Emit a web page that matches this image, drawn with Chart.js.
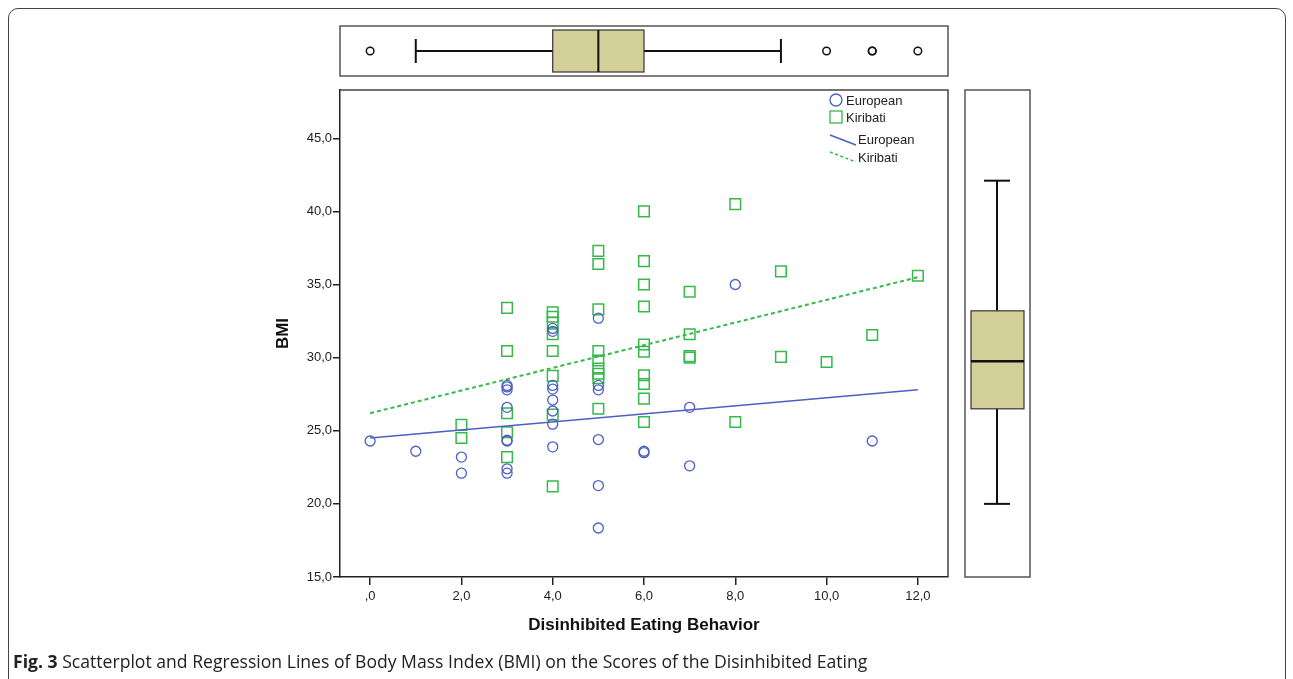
<!DOCTYPE html>
<html>
<head>
<meta charset="utf-8">
<script src="https://cdn.jsdelivr.net/npm/chart.js@4.4.1/dist/chart.umd.min.js"></script>
<style>
  html, body { margin: 0; padding: 0; background: #fff; width: 1293px; height: 679px; overflow: hidden; }
  #frame { position: absolute; left: 8px; top: 8px; width: 1276px; height: 720px; border: 1px solid #444; border-radius: 10px; }
  #plot { position: absolute; left: 0; top: 0; }
  #caption { position: absolute; left: 13px; top: 649px; font-family: "Open Sans"; font-size: 17.6px; color: #222; white-space: nowrap; }
</style>
</head>
<body>
<div id="frame"></div>
<canvas id="plot" width="1293" height="679"></canvas>
<div id="caption"><b>Fig. 3</b> Scatterplot and Regression Lines of Body Mass Index (BMI) on the Scores of the Disinhibited Eating</div>
<script>
// European (circles)
const eurX = [0, 1, 2, 2, 3, 3, 3, 3, 3, 3, 3, 3, 4, 4, 4, 4, 4, 4, 4, 4, 5, 5, 5, 5, 5, 5, 6, 6, 7, 7, 8, 11];
const eurY = [24.3, 23.6, 23.2, 22.1, 28.1, 28.0, 27.8, 26.6, 24.35, 24.3, 22.4, 22.1,
  32.0, 31.8, 28.1, 27.85, 27.1, 26.35, 25.45, 23.9, 32.7, 28.1, 27.8, 24.4, 21.25, 18.35,
  23.6, 23.5, 26.6, 22.6, 35.0, 24.3];

// Kiribati (squares)
const kirX = [2, 2, 3, 3, 3, 3, 3, 4, 4, 4, 4, 4, 4, 4, 4, 5, 5, 5, 5, 5, 5, 5, 5, 5,
  6, 6, 6, 6, 6, 6, 6, 6, 6, 6, 7, 7, 7, 7, 8, 8, 9, 9, 10, 11, 12];
const kirY = [25.4, 24.5, 33.4, 30.45, 26.2, 24.9, 23.2,
  33.1, 32.8, 32.4, 31.6, 30.45, 28.75, 26.1, 21.2,
  37.3, 36.4, 33.3, 30.45, 29.8, 29.25, 28.9, 28.6, 26.5,
  40.0, 36.6, 35.0, 33.5, 30.9, 30.4, 28.8, 28.2, 27.2, 25.6,
  34.5, 31.6, 30.1, 30.0, 40.5, 25.6, 35.9, 30.05, 29.7, 31.55, 35.6];

// regression lines, read at the ends of the x range
const fitX = [0, 12];
const eurFit = [24.5, 27.8];
const kirFit = [26.2, 35.5];

// axis ticks
const xTicks = [0, 2, 4, 6, 8, 10, 12];
const xTickLabels = [',0', '2,0', '4,0', '6,0', '8,0', '10,0', '12,0'];
const yTicks = [15, 20, 25, 30, 35, 40, 45];

// boxplots: [min whisker, q1, median, q3, max whisker]
const xBoxStats = [1, 4, 5, 6, 9];
const xOutliers = [0, 10, 11, 11, 12];
const yBoxStats = [20.0, 26.5, 29.75, 33.2, 42.1];

const BLUE = '#4b5fc4';
const GREEN = '#35b94b';
const BOX_FILL = '#d3cf98';

const pts = (xs, ys) => xs.map((v, i) => ({ x: v, y: ys[i] }));

// frame, legend and the two marginal boxplots
const extras = {
  id: 'extras',
  afterDraw(chart) {
    const { ctx, chartArea: a, scales: { x, y } } = chart;
    ctx.save();

    // top/right border of the plot
    ctx.strokeStyle = '#444';
    ctx.lineWidth = 1.5;
    ctx.beginPath();
    ctx.moveTo(a.left, a.top); ctx.lineTo(a.right, a.top); ctx.lineTo(a.right, a.bottom);
    ctx.stroke();

    const line = (x1, y1, x2, y2) => { ctx.beginPath(); ctx.moveTo(x1, y1); ctx.lineTo(x2, y2); ctx.stroke(); };

    // top boxplot (x variable)
    ctx.strokeStyle = '#555';
    ctx.lineWidth = 1.5;
    ctx.strokeRect(a.left, 26, a.right - a.left, 50);
    const cy = 51;
    const [mn, q1, md, q3, mx] = xBoxStats.map(v => x.getPixelForValue(v));
    ctx.strokeStyle = '#111';
    ctx.lineWidth = 2;
    line(mn, cy, q1, cy); line(q3, cy, mx, cy);
    line(mn, cy - 12, mn, cy + 12); line(mx, cy - 12, mx, cy + 12);
    ctx.fillStyle = BOX_FILL;
    ctx.fillRect(q1, 30, q3 - q1, 42);
    ctx.lineWidth = 1.2;
    ctx.strokeStyle = '#333';
    ctx.strokeRect(q1, 30, q3 - q1, 42);
    ctx.lineWidth = 2;
    ctx.strokeStyle = '#111';
    line(md, 30, md, 72);
    ctx.lineWidth = 1.5;
    xOutliers.forEach(v => {
      ctx.beginPath(); ctx.arc(x.getPixelForValue(v), cy, 3.8, 0, Math.PI * 2); ctx.stroke();
    });

    // right boxplot (y variable)
    ctx.strokeStyle = '#555';
    ctx.lineWidth = 1.5;
    ctx.strokeRect(965, a.top, 65, a.bottom - a.top);
    const cx = 997;
    const [bmn, bq1, bmd, bq3, bmx] = yBoxStats.map(v => y.getPixelForValue(v));
    ctx.strokeStyle = '#111';
    ctx.lineWidth = 2;
    line(cx, bmn, cx, bq1); line(cx, bq3, cx, bmx);
    line(cx - 13, bmn, cx + 13, bmn); line(cx - 13, bmx, cx + 13, bmx);
    ctx.fillStyle = BOX_FILL;
    ctx.fillRect(971, bq3, 53, bq1 - bq3);
    ctx.lineWidth = 1.2;
    ctx.strokeStyle = '#333';
    ctx.strokeRect(971, bq3, 53, bq1 - bq3);
    ctx.lineWidth = 2.5;
    ctx.strokeStyle = '#111';
    line(971, bmd, 1024, bmd);

    // legend
    const lx = a.right - 112;
    ctx.font = '13px "Liberation Sans", Arial, sans-serif';
    ctx.textBaseline = 'middle';
    ctx.fillStyle = '#222';
    ctx.lineWidth = 1.3;
    ctx.strokeStyle = BLUE;
    ctx.beginPath(); ctx.arc(lx, a.top + 10, 6, 0, Math.PI * 2); ctx.stroke();
    ctx.fillText('European', lx + 10, a.top + 11);
    ctx.strokeStyle = GREEN;
    ctx.strokeRect(lx - 6, a.top + 21, 12, 12);
    ctx.fillText('Kiribati', lx + 10, a.top + 28);
    ctx.strokeStyle = BLUE;
    ctx.lineWidth = 1.5;
    line(lx - 6, a.top + 45, lx + 20, a.top + 55);
    ctx.fillText('European', lx + 22, a.top + 50);
    ctx.strokeStyle = GREEN;
    ctx.setLineDash([3, 2.5]);
    line(lx - 6, a.top + 62, lx + 20, a.top + 72);
    ctx.setLineDash([]);
    ctx.fillText('Kiribati', lx + 22, a.top + 68);

    ctx.restore();
  }
};

new Chart(document.getElementById('plot'), {
  type: 'scatter',
  data: {
    datasets: [
      { type: 'line', label: 'European fit', data: pts(fitX, eurFit), borderColor: BLUE, borderWidth: 1.6, pointRadius: 0, fill: false },
      { type: 'line', label: 'Kiribati fit', data: pts(fitX, kirFit), borderColor: GREEN, borderWidth: 2, borderDash: [4, 3], pointRadius: 0, fill: false },
      { label: 'European', data: pts(eurX, eurY), pointStyle: 'circle', pointRadius: 5, borderColor: BLUE, backgroundColor: 'rgba(0,0,0,0)', borderWidth: 1.3 },
      { label: 'Kiribati', data: pts(kirX, kirY), pointStyle: 'rect', pointRadius: 7.5, borderColor: GREEN, backgroundColor: 'rgba(0,0,0,0)', borderWidth: 1.5 }
    ]
  },
  options: {
    responsive: false,
    animation: false,
    devicePixelRatio: 1,
    layout: { padding: { left: 262, top: 90, right: 345, bottom: 32 } },
    plugins: { legend: { display: false }, tooltip: { enabled: false } },
    scales: {
      x: {
        type: 'linear', min: -0.66, max: 12.66,
        afterFit: s => { s.height = 70; },
        afterBuildTicks: s => { s.ticks = xTicks.map(v => ({ value: v })); },
        ticks: { callback: (v, i) => xTickLabels[i], color: '#222', font: { family: '"Liberation Sans", Arial', size: 13 }, padding: 4, maxRotation: 0 },
        grid: { drawOnChartArea: false, tickLength: 8, color: '#222', lineWidth: 1.5 },
        border: { display: true, color: '#222', width: 1.5 },
        title: { display: true, text: 'Disinhibited Eating Behavior', color: '#111', font: { family: '"Liberation Sans", Arial', size: 17, weight: 'bold' }, padding: { top: 11, bottom: 11 } }
      },
      y: {
        type: 'linear', min: 15, max: 48.3,
        afterFit: s => { s.width = 78; },
        afterBuildTicks: s => { s.ticks = yTicks.map(v => ({ value: v })); },
        ticks: { callback: v => v.toFixed(1).replace('.', ','), color: '#222', font: { family: '"Liberation Sans", Arial', size: 13 }, padding: 1 },
        grid: { drawOnChartArea: false, tickLength: 7, color: '#222', lineWidth: 1.5 },
        border: { display: true, color: '#222', width: 1.5 },
        title: { display: true, text: 'BMI', color: '#111', font: { family: '"Liberation Sans", Arial', size: 17, weight: 'bold' }, padding: { top: 11, bottom: 11 } }
      }
    }
  },
  plugins: [extras]
});
</script>
</body>
</html>
